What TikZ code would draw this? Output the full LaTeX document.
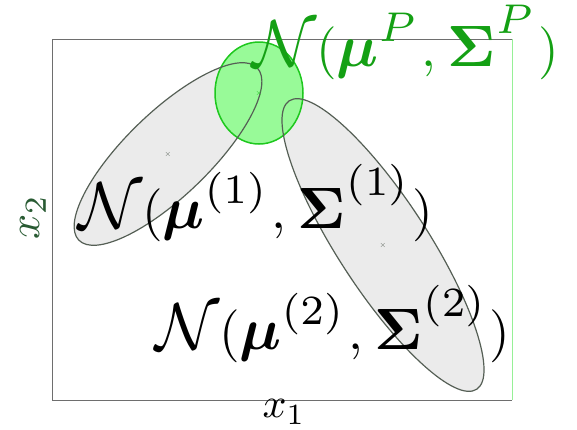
\documentclass[tikz,border=0pt]{standalone}
\usepackage{graphicx}
\usepackage{amsmath,bm}
\definecolor{framegray}{RGB}{110,110,110}
\definecolor{framegreen}{RGB}{150,240,150}
\definecolor{gaussfill}{RGB}{235,235,235}
\definecolor{gaussedge}{RGB}{85,95,85}
\definecolor{pfill}{RGB}{152,250,152}
\definecolor{pedge}{RGB}{30,200,30}
\definecolor{ptext}{RGB}{20,160,20}
\definecolor{axgreen}{RGB}{40,90,50}
\newcommand{\supx}[1]{^{\raisebox{1pt}{\scalebox{1.12}{$\scriptstyle #1$}}}}
\newcommand{\gausslabel}[1]{\scalebox{5.3}{$\scalebox{1.25}{$\mathcal{N}$}(\scalebox{1.12}{$\bm{\mu}$}\supx{#1}\mkern1mu,\mkern1mu\scalebox{1.1}{$\bm{\Sigma}$}\supx{#1}\mkern1mu)$}}
\begin{document}
\begin{tikzpicture}[x=1pt,y=-1pt,
  gauss/.style={fill=gaussfill},
  gaussline/.style={draw=gaussedge,line width=1.2pt},
  cross/.style={font=\fontsize{8}{8}\selectfont},
  lbl/.style={anchor=base west,inner sep=0pt,font=\fontsize{10}{12}\selectfont}]
\useasboundingbox (0,0) rectangle (577,429);
% frame
\coordinate (tl) at (52,39);
\coordinate (tr) at (512,39);
\coordinate (bl) at (52,400);
\coordinate (br) at (512,400);
\draw[framegray,line width=1pt] (tl) -- (tr);
\draw[framegray,line width=1pt] (tl) -- (bl) -- (br);
\draw[framegreen,line width=1pt] (tr) -- (br);
% ellipses
\coordinate (m1) at (168,154);
\coordinate (m2) at (383,245);
\coordinate (mp) at (259,93);
\fill[gauss,rotate around={44:(m1)}] (m1) ellipse [x radius=124, y radius=42];
\fill[gauss,rotate around={-57:(m2)}] (m2) ellipse [x radius=172, y radius=45];
\draw[fill=pfill,draw=pedge,line width=1.5pt] (mp) ellipse [x radius=44, y radius=51];
\draw[gaussline,rotate around={44:(m1)}] (m1) ellipse [x radius=124, y radius=42];
\draw[gaussline,rotate around={-57:(m2)}] (m2) ellipse [x radius=172, y radius=45];
\node[cross,text=gaussedge] (c1) at (m1) {$\times$};
\node[cross,text=gaussedge] (c2) at (m2) {$\times$};
\node[cross,text=pedge] (cp) at (mp) {$\times$};
% labels
\node[lbl,text=ptext] (lp) at (252,66) {\gausslabel{P}};
\node[lbl] (l1) at (78,228) {\gausslabel{(1)}};
\node[lbl] (l2) at (155,349) {\gausslabel{(2)}};
\node[lbl,anchor=center,rotate=90,text=axgreen] (x2) at (33,217) {\scalebox{4.4}{$x_2$}};
\node[lbl,anchor=center] (x1) at (284,412) {\scalebox{4.2}{$x_1$}};
\end{tikzpicture}
\end{document}
